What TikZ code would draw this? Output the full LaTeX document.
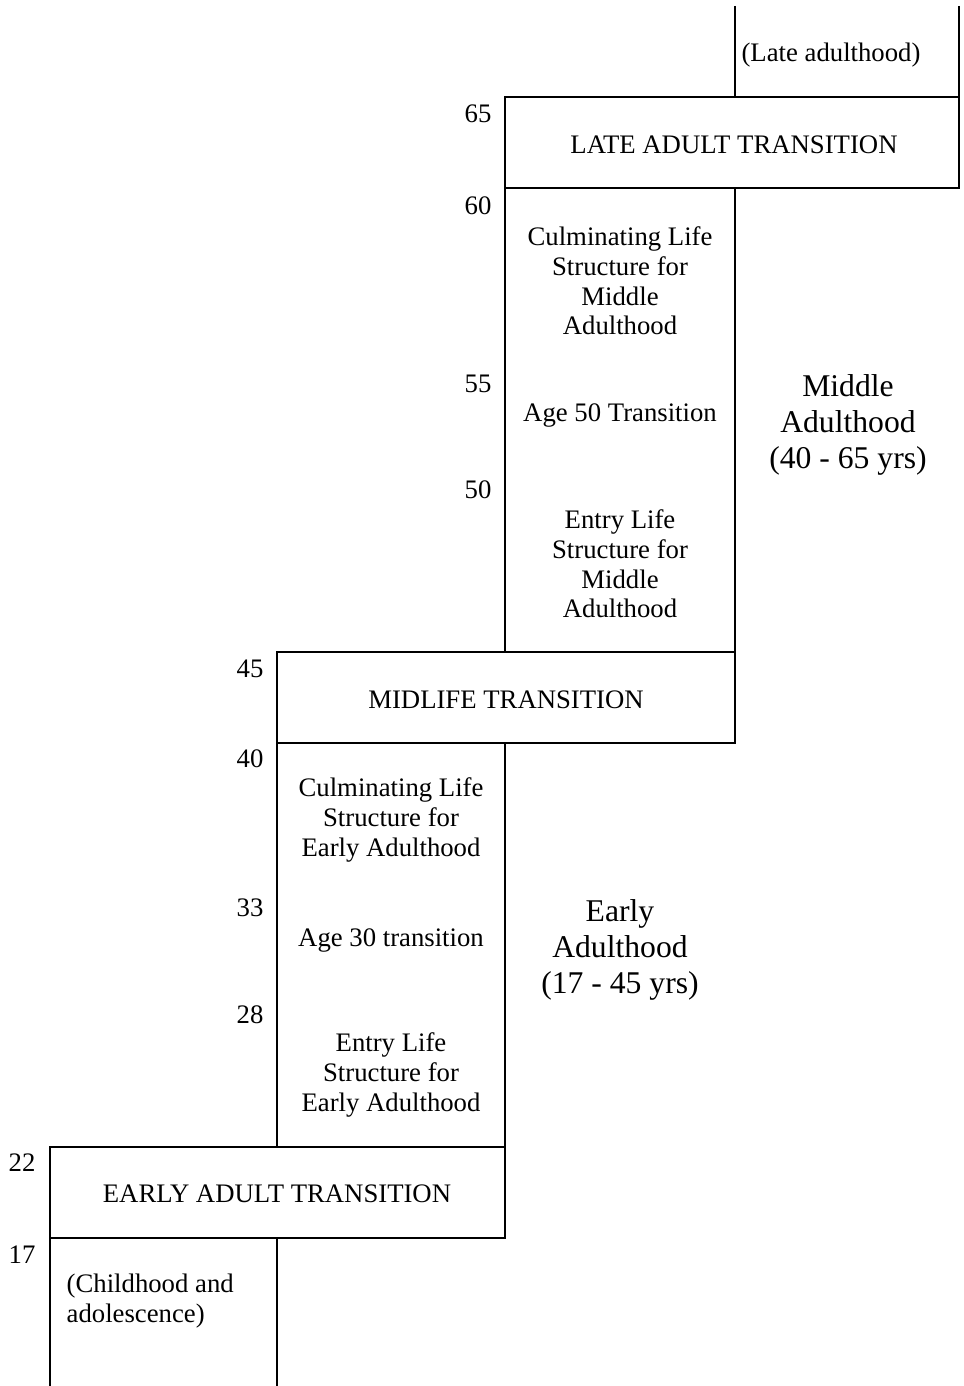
\documentclass[tikz,border=0pt]{standalone}
\usepackage{fontspec}
\setmainfont{Liberation Serif}
\tikzset{
	stagetxt/.style={align=center,inner sep=0,font=\fontsize{7.6}{8.4}\selectfont},
	bigtxt/.style={align=center,inner sep=0,font=\fontsize{9}{10.2}\selectfont},
	agetxt/.style={inner sep=0,font=\fontsize{7.6}{8.4}\selectfont},
	edge/.style={black,line width=0.65pt}
}
\begin{document}
\begin{tikzpicture}[x=0.01cm,y=-0.01cm]
	\useasboundingbox (0,0) rectangle (963,1386);
	
	\def\xa{50}     % left edge
	\def\xb{277}    % early column
	\def\xc{505}    % middle column
	\def\xd{735}    % right of middle column
	\def\xe{959}    % right edge
	
	% BOXES
	\draw[edge] (\xa,1147) rectangle (\xc,1238);
	\draw[edge] (\xb,743) rectangle (\xc,1147);
	\draw[edge] (\xb,652) rectangle (\xd,743);
	\draw[edge] (\xc,188) rectangle (\xd,652);
	\draw[edge] (\xc,97) rectangle (\xe,188);
	\draw[edge] (\xd,6) -- (\xd,97);
	\draw[edge] (\xe,6) -- (\xe,97);
	\draw[edge] (\xa,1238) -- (\xa,1386);
	\draw[edge] (\xb,1238) -- (\xb,1386);
	
	% STAGES
	\node[stagetxt] (late) at (831,55) {(Late adulthood)};
	\node[stagetxt] (lat) at (734,145) {LATE ADULT TRANSITION};
	\node[stagetxt] (culmmid) at (620,281) {Culminating Life\\Structure for\\Middle\\Adulthood};
	\node[stagetxt] (age50) at (620,416) {Age 50 Transition};
	\node[stagetxt] (entrymid) at (620,564) {Entry Life\\Structure for\\Middle\\Adulthood};
	\node[stagetxt] (mlt) at (506,700) {MIDLIFE TRANSITION};
	\node[stagetxt] (culmearly) at (391,820) {Culminating Life\\Structure for\\Early Adulthood};
	\node[stagetxt] (age30) at (391,940) {Age 30 transition};
	\node[stagetxt] (entryearly) at (391,1075) {Entry Life\\Structure for\\Early Adulthood};
	\node[stagetxt] (eat) at (277,1194) {EARLY ADULT TRANSITION};
	\node[stagetxt,align=left,anchor=west] (child) at (66,1301) {(Childhood and\\adolescence)};
	
	% ERAS
	\node[bigtxt] (middle) at (848,425) {Middle\\Adulthood\\(40 - 65 yrs)};
	\node[bigtxt] (early) at (620,950) {Early\\Adulthood\\(17 - 45 yrs)};
	
	% AGES
	\foreach \a/\x/\y in {65/478/114,60/478/206,55/478/384,50/478/490,
		45/250/669,40/250/759,33/250/908,28/250/1015,22/22/1163,17/22/1255}
	\node[agetxt] (age\a) at (\x,\y) {\a};
	
\end{tikzpicture}
\end{document}
